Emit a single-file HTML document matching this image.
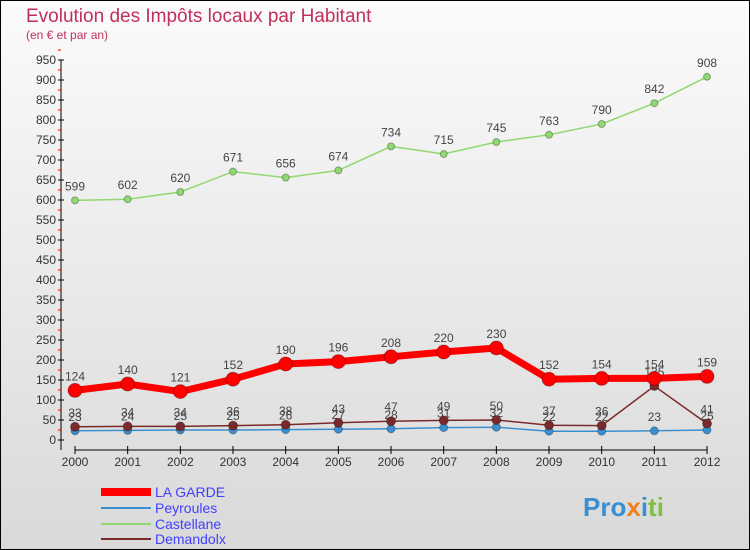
<!DOCTYPE html>
<html><head><meta charset="utf-8"><style>
body{margin:0;width:750px;height:550px;overflow:hidden;font-family:"Liberation Sans",sans-serif}
#c{position:absolute;left:0;top:0;width:748px;height:548px;border:1px solid #000;background:linear-gradient(#fbfbfb,#d9d9d9)}
</style></head><body>
<div id="c"></div>
<svg id="s" width="750" height="550" style="position:absolute;left:0;top:0">
<text x="26" y="22" font-size="19" fill="#c0305a">Evolution des Impôts locaux par Habitant</text>
<text x="26" y="39" font-size="12" fill="#c0305a">(en € et par an)</text>
<g id="axes"></g><g id="series"></g>
<g>
<rect x="101" y="488" width="50" height="8" fill="#f00"/>
<text x="155" y="497" font-size="14" fill="#4040ff">LA GARDE</text>
<line x1="101" y1="508" x2="151" y2="508" stroke="#3a8fd0" stroke-width="2"/>
<text x="155" y="513" font-size="14" fill="#4040ff">Peyroules</text>
<line x1="101" y1="524" x2="151" y2="524" stroke="#90d870" stroke-width="2"/>
<text x="155" y="529" font-size="14" fill="#4040ff">Castellane</text>
<line x1="101" y1="539" x2="151" y2="539" stroke="#7a2a2a" stroke-width="2"/>
<text x="155" y="544" font-size="14" fill="#4040ff">Demandolx</text>
</g>
<text x="583" y="516" font-size="26" font-weight="bold"><tspan fill="#3a8fd0">Pro</tspan><tspan fill="#f08020">x</tspan><tspan fill="#3a8fd0">i</tspan><tspan fill="#80c040">ti</tspan></text>
</svg>
<script>
const years=["2000","2001","2002","2003","2004","2005","2006","2007","2008","2009","2010","2011","2012"];
const laGarde=[124,140,121,152,190,196,208,220,230,152,154,154,159];
const peyroules=[23,24,25,25,26,27,28,31,32,22,22,23,25];
const castellane=[599,602,620,671,656,674,734,715,745,763,790,842,908];
const demandolx=[33,34,34,36,38,43,47,49,50,37,36,135,41];
const yTicks=[0,50,100,150,200,250,300,350,400,450,500,550,600,650,700,750,800,850,900,950];
const NS="http://www.w3.org/2000/svg";
const X=i=>75+i*52.67, Y=v=>440-v*0.4;
function mk(p,t,a){const e=document.createElementNS(NS,t);for(const k in a)e.setAttribute(k,a[k]);p.appendChild(e);return e;}
const ax=document.getElementById('axes'), sg=document.getElementById('series');
let l=mk(ax,'line',{x1:61,y1:Y(950),x2:61,y2:450,stroke:'#000'});


l=mk(ax,'line',{x1:75,y1:450,x2:X(12),y2:450,stroke:'#000'});


yTicks.forEach(v=>{
 mk(ax,'line',{x1:58,y1:Y(v),x2:64,y2:Y(v),stroke:'#000'});
 mk(ax,'line',{x1:58,y1:Y(v+25),x2:61,y2:Y(v+25),stroke:'#f00'});
 const t=mk(ax,'text',{x:56,y:Y(v)+4,'font-size':12,'text-anchor':'end',fill:'#333'});t.textContent=v;
 
 
});
years.forEach((y,i)=>{
 mk(ax,'line',{x1:X(i),y1:446,x2:X(i),y2:454,stroke:'#000'});
 const t=mk(ax,'text',{x:X(i),y:466,'font-size':12,'text-anchor':'middle',fill:'#333'});t.textContent=y;
 
 
});
function series(name,data,color,w,r,labels){
 const p=mk(sg,'polyline',{points:data.map((v,i)=>X(i)+','+Y(v)).join(' '),fill:'none',stroke:color,'stroke-width':w});
 
 
 data.forEach((v,i)=>{
  const c=mk(sg,'circle',{cx:X(i),cy:Y(v),r:r,fill:color,stroke:'rgba(0,0,0,0.3)'});
  
  
  if(labels){const t=mk(sg,'text',{x:X(i),y:Y(v)-10,'font-size':12,'text-anchor':'middle',fill:'#444'});t.textContent=v;
  
  }
 });
}
series('castellane',castellane,'#90d870',1.5,3.5,true);
series('peyroules',peyroules,'#3a8fd0',1.5,4,true);
series('demandolx',demandolx,'#7a2a2a',1.5,4.5,true);
series('la-garde',laGarde,'#f00',7,7,true);
</script>
</body></html>
